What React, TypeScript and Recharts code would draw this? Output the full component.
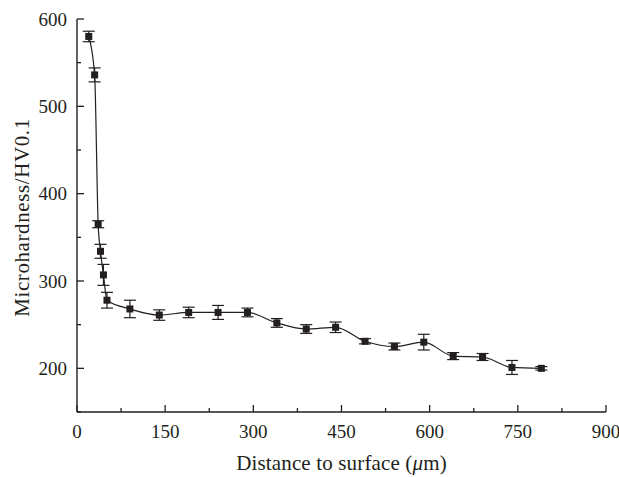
import { LineChart, Line, XAxis, YAxis, ErrorBar, Label } from "recharts";

const distance = [20, 30, 36, 40, 45, 51, 90, 140, 190, 240, 290, 340, 390, 440, 490, 540, 590, 640, 690, 740, 790];
const hardness = [580, 536, 365, 334, 307, 278, 268, 261, 264, 264, 264, 252, 245, 247, 231, 225, 230, 214, 213, 201, 200];
const hardnessErr = [6, 8, 4, 8, 12, 9, 10, 6, 6, 8, 5, 5, 5, 6, 3, 4, 9, 4, 4, 8, 2];

const xTicks = [0, 75, 150, 225, 300, 375, 450, 525, 600, 675, 750, 825, 900];
const yTicks = [150, 200, 250, 300, 350, 400, 450, 500, 550, 600];

const data = distance.map((d, i) => ({ distance: d, hv: hardness[i], err: hardnessErr[i] }));

const ink = "#231f20";
const font = "'Liberation Serif', 'Times New Roman', serif";

function XTick(props: any) {
  const { x, y, payload } = props;
  const major = payload.value % 150 === 0;
  return (
    <g>
      <line x1={x} x2={x} y1={y} y2={y - (major ? 7 : 4)} stroke={ink} strokeWidth={1.3} />
      {major && (
        <text x={x} y={y + 26} textAnchor="middle" fill={ink} fontSize={19} fontFamily={font}>
          {payload.value}
        </text>
      )}
    </g>
  );
}

function YTick(props: any) {
  const { x, y, payload } = props;
  const major = payload.value % 100 === 0;
  return (
    <g>
      <line x1={x} x2={x + (major ? 7 : 4)} y1={y} y2={y} stroke={ink} strokeWidth={1.3} />
      {major && (
        <text x={x - 10} y={y} dy="0.35em" textAnchor="end" fill={ink} fontSize={19} fontFamily={font}>
          {payload.value}
        </text>
      )}
    </g>
  );
}

function SquareDot(props: any) {
  const { cx, cy } = props;
  if (cx == null || cy == null) return null;
  return <rect x={cx - 3.5} y={cy - 3.5} width={7} height={7} fill={ink} />;
}

export default function App() {
  return (
    <div style={{ position: "absolute", left: 0, top: 0, background: "#fff" }}>
      <LineChart width={619} height={477} data={data} margin={{ top: 19, right: 13, bottom: 0, left: 0 }}>
        <XAxis
          xAxisId="top"
          orientation="top"
          type="number"
          domain={[0, 900]}
          height={0}
          tick={false}
          tickLine={false}
          axisLine={{ stroke: ink, strokeWidth: 1.4 }}
        />
        <YAxis
          yAxisId="right"
          orientation="right"
          type="number"
          domain={[150, 600]}
          width={0}
          tick={false}
          tickLine={false}
          axisLine={{ stroke: ink, strokeWidth: 1.4 }}
        />
        <XAxis
          dataKey="distance"
          type="number"
          domain={[0, 900]}
          ticks={xTicks}
          interval={0}
          height={65}
          tickSize={0}
          tickMargin={0}
          tick={<XTick />}
          axisLine={{ stroke: ink, strokeWidth: 1.4 }}
        >
          <Label
            content={(p: any) => {
              const vb = p.viewBox;
              return (
                <text
                  x={vb.x + vb.width / 2}
                  y={vb.y + 58}
                  textAnchor="middle"
                  fill={ink}
                  fontSize={21}
                  letterSpacing={0.15}
                  fontFamily={font}
                >
                  Distance to surface (<tspan fontStyle="italic">μ</tspan>m)
                </text>
              );
            }}
          />
        </XAxis>
        <YAxis
          type="number"
          domain={[150, 600]}
          ticks={yTicks}
          interval={0}
          width={77}
          tickSize={0}
          tickMargin={0}
          tick={<YTick />}
          axisLine={{ stroke: ink, strokeWidth: 1.4 }}
        >
          <Label
            content={(p: any) => {
              const vb = p.viewBox;
              const cx = vb.x + 22;
              const cy = vb.y + vb.height / 2 + 2;
              return (
                <text
                  x={cx}
                  y={cy}
                  transform={`rotate(-90 ${cx} ${cy})`}
                  textAnchor="middle"
                  dy="0.35em"
                  fill={ink}
                  fontSize={21}
                  letterSpacing={0.6}
                  fontFamily={font}
                >
                  Microhardness/HV0.1
                </text>
              );
            }}
          />
        </YAxis>
        <Line
          dataKey="hv"
          type="monotone"
          stroke={ink}
          strokeWidth={1.2}
          dot={<SquareDot />}
          activeDot={false}
          isAnimationActive={false}
        >
          <ErrorBar dataKey="err" width={6} stroke={ink} strokeWidth={1.2} direction="y" />
        </Line>
      </LineChart>
    </div>
  );
}
